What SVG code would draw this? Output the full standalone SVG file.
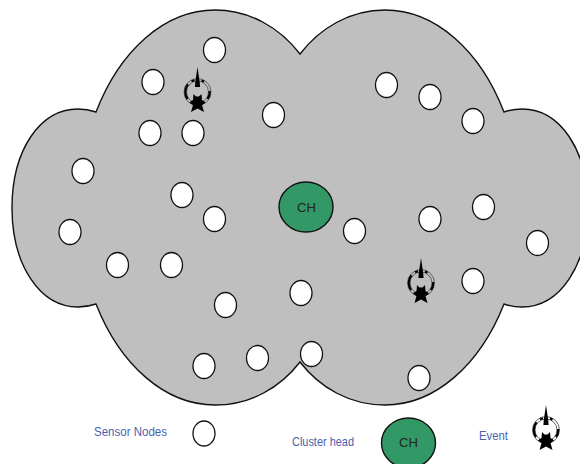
<svg xmlns="http://www.w3.org/2000/svg" width="580" height="464" viewBox="0 0 580 464">
<style>
.s{fill:#fff;stroke:#111;stroke-width:1.3}
.c{fill:#329966;stroke:#111;stroke-width:1.4}
.t{font:13px "Liberation Sans",sans-serif;fill:#222;text-anchor:middle}
.l{font:13px "Liberation Sans",sans-serif;fill:#4a5fae}
.r1{fill:none;stroke:#555;stroke-width:.9}
.r2{fill:none;stroke:#000;stroke-width:2.2}
.b{fill:#000}
</style>
<defs>
<ellipse id="n" class="s" rx="11" ry="12.5"/>
<g id="ev">
<circle class="r1" r="13.500"/><circle class="r1" r="11"/>
<path class="r2" d="M4,-11.500A12.200,12.200 0 0 1 6.500,-10.300M12.200,-1A12.200,12.200 0 0 1 10,7M7,10A12.200,12.200 0 0 1 -7,10M-10,7A12.200,12.200 0 0 1 -9.500,-7.700M-6,-10.600A12.200,12.200 0 0 1 -3,-11.800"/>
<path class="b" d="M0,-25 L2.200,-10 L2.600,-5 L-2.600,-5 L-2.200,-10Z"/>
<path class="b" d="M-4,2 L-1.500,4.500 L1.500,4.500 L4,2 L4.500,8 L8,10.500 L4.500,13 L6.500,20 L0,16.500 L-6.500,20 L-4.500,13 L-8,10.500 L-4.500,8Z"/>
</g>
</defs>
<g id="cloud"><path d="M96,112 C120,50 165,10 215,10 C250,10 280,28 300,54 C320,28 350,10 385,10 C435,10 480,50 504,112 C510,110 515,109 522,109 C560,109 588,150 588,208 C588,265 560,307 522,307 C515,307 510,306 504,304 C480,365 435,405 385,405 C350,405 320,388 300,362 C280,388 250,405 215,405 C165,405 120,365 96,304 C90,306 85,307 78,307 C40,307 12,265 12,208 C12,150 40,109 78,109 C85,109 90,110 96,112Z" fill="#bfbfbf" stroke="#111" stroke-width="1.4"/></g>
<g id="sensors">
<use href="#n" x="214.500" y="50"/><use href="#n" x="153" y="82"/><use href="#n" x="150" y="133"/><use href="#n" x="193" y="133"/><use href="#n" x="273.500" y="115"/><use href="#n" x="83" y="171"/><use href="#n" x="182" y="195"/><use href="#n" x="214.500" y="219"/><use href="#n" x="70" y="232"/><use href="#n" x="117.500" y="265"/><use href="#n" x="171.500" y="265"/><use href="#n" x="225.500" y="305"/><use href="#n" x="301" y="293"/><use href="#n" x="204" y="366"/><use href="#n" x="257.500" y="358"/><use href="#n" x="311.500" y="354"/><use href="#n" x="419" y="378"/><use href="#n" x="354.500" y="231"/><use href="#n" x="430" y="219"/><use href="#n" x="483.500" y="207"/><use href="#n" x="537.500" y="243"/><use href="#n" x="473" y="281"/><use href="#n" x="386.500" y="85"/><use href="#n" x="430" y="97"/><use href="#n" x="473" y="121"/>
</g>
<g id="ch"><ellipse class="c" cx="306" cy="207" rx="27" ry="25"/><text class="t" x="306.500" y="212">CH</text></g>
<g id="event1"><use href="#ev" x="197.500" y="92"/></g>
<g id="event2"><use href="#ev" x="421" y="283"/></g>
<g id="legend">
<text class="l" x="94" y="436" textLength="73" lengthAdjust="spacingAndGlyphs">Sensor Nodes</text>
<use href="#n" x="204" y="433.500"/>
<text class="l" x="292" y="446" textLength="62" lengthAdjust="spacingAndGlyphs">Cluster head</text>
<ellipse class="c" cx="408.500" cy="443" rx="27" ry="25"/><text class="t" x="408.500" y="447">CH</text>
<text class="l" x="479" y="439.500" textLength="29" lengthAdjust="spacingAndGlyphs">Event</text>
<use href="#ev" x="546" y="430"/>
</g>
</svg>
